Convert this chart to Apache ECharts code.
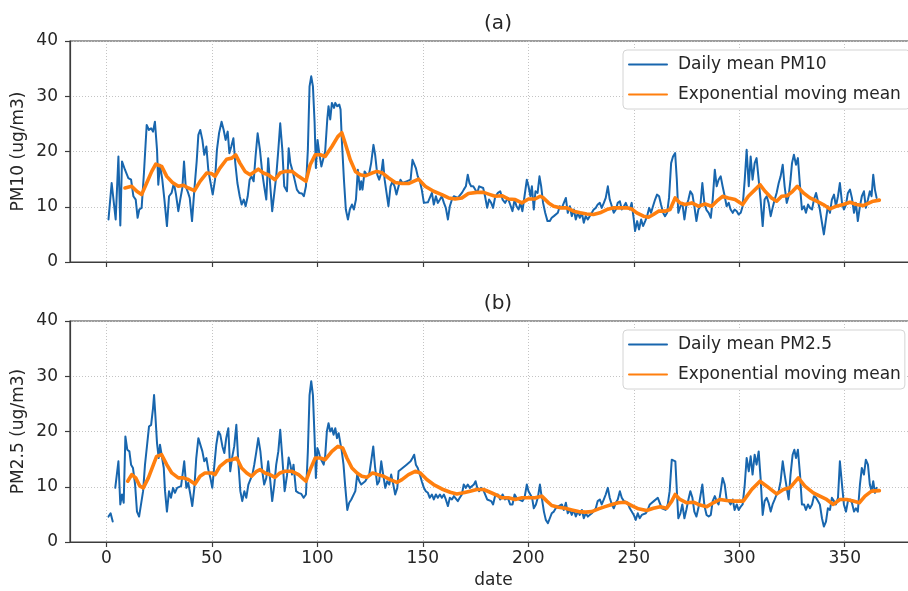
<!DOCTYPE html>
<html>
<head>
<meta charset="utf-8">
<script src="https://cdn.jsdelivr.net/npm/echarts@6/dist/echarts.min.js"></script>
<style>
  html, body { margin: 0; padding: 0; background: #fff; overflow: hidden; }
  #chart { width: 922px; height: 591px; }
</style>
</head>
<body>
<div id="chart"></div>
<script>
// x ticks and y ticks
const xTicks = [0, 50, 100, 150, 200, 250, 300, 350];
const yTicks = [0, 10, 20, 30, 40];

// (a) daily mean PM10, [day, value]
const pm10Daily = [
  [1,7.7],[2.5,14.3],[4.4,7.7],[5.7,19.1],[6.6,6.6],[7.4,18.2],[8.8,16.7],[10.4,15.2],[11.7,14.9],[12.8,11.9],
  [13.9,11.3],[14.8,8],[15.6,9.5],[16.7,9.8],[17.8,16.1],[19.1,24.8],[20.2,23.9],[21.2,24.2],[22.1,23.6],[23,25.4],
  [24,20.3],[24.6,14],[25.4,17.6],[26.5,14.9],[27.5,11.3],[28.7,6.5],[29.7,11.9],[30.9,12.5],[32,14.3],[33,12.2],
  [34.1,9.2],[35,11.3],[36,13.4],[36.8,18.2],[37.6,13.7],[38.5,12.8],[39.5,11.6],[40.6,7.4],[41.7,13.1],[42.8,18.2],
  [43.6,23],[44.5,23.9],[45.5,22.1],[46.4,19.4],[47.4,20.9],[48.3,16.7],[49.4,14.3],[50.4,12.2],[51.5,14.9],[52.4,20.3],
  [53.4,23.3],[54.6,25.4],[55.6,23.9],[56.5,22.1],[57.5,23.6],[58.3,19.7],[59.2,20.9],[60.2,22.4],[61.1,17.9],[62.1,14.3],
  [63.2,11.9],[64.1,10.4],[65.1,11.3],[66,10.1],[67,11.9],[67.9,14.9],[68.8,15.5],[69.8,14.6],[70.7,19.1],[71.7,23.3],
  [72.8,20.3],[73.9,16.1],[74.8,13.7],[75.8,11.3],[76.7,18.8],[77.7,13.7],[78.6,9.2],[79.6,12.5],[80.5,15.5],[81.5,20.3],
  [82.4,25.1],[83.4,20.3],[84.3,13.7],[85.6,12.8],[86.4,20.6],[87.2,17.9],[88.3,16.4],[89.2,16.7],[90.3,13.1],[91.4,12.5],
  [92.7,12.4],[93.6,11.9],[94.6,13.7],[95.5,20.3],[96.3,31.8],[97.1,33.6],[97.9,31.8],[98.7,25.2],[99.3,17],[100.1,22.1],
  [100.9,19.7],[101.9,17.3],[102.8,17.6],[103.7,20],[104.7,25.8],[105.3,28.2],[106.1,25.8],[106.9,28.8],[107.9,27.9],[108.5,28.8],
  [109.4,28.2],[110.4,28.5],[111,27.6],[111.6,22.1],[112.6,14.9],[113.5,9.5],[114.5,7.7],[115.4,9.5],[116.4,10.4],[117.3,9.5],
  [118.3,11.3],[119.2,16.7],[120.2,13.1],[120.8,14.6],[121.4,13.1],[122.4,16.4],[123.5,15.8],[124.6,16.1],[125.5,17.9],[126.6,21.2],
  [127.4,19.4],[128.4,15.8],[129.3,14.9],[130.3,16.1],[131.1,18.5],[131.9,14.9],[132.8,12.5],[133.7,10.1],[134.7,13.7],[135.6,14.6],
  [136.6,13.7],[137.5,12.2],[138.5,13.7],[139.4,14.9],[140.4,14.3],[141.3,14.3],[142.3,14.6],[143.2,14.3],[144.2,14.9],[145.1,18.5],
  [145.7,18.8],[146.7,17],[147.6,15.5],[148.6,14.6],[149.5,13.1],[150.5,10.7],[151.4,10.4],[152.4,10.8],[153.3,10.7],[154.3,12.5],
  [155.2,10.4],[156.2,11.9],[157.1,10.7],[158.1,11.3],[159,11.9],[160,10.7],[160.9,9.8],[161.9,7.7],[162.8,10.1],[163.8,11.3],
  [164.7,11.9],[165.6,11.6],[166.6,11.6],[167.5,11.9],[168.5,12.5],[169.4,13.1],[170.4,13.7],[171.3,15.8],[172.1,14.3],[172.9,13.7],
  [173.9,13.7],[174.8,13.4],[175.8,12.5],[176.7,13.7],[177.6,13.7],[178.6,13.4],[179.5,11.9],[180.5,9.8],[181.4,11.3],[182.4,10.7],
  [183.3,9.8],[184.3,11.8],[185.6,12.5],[186.7,12.8],[187.8,11.3],[189,10.7],[190.3,11.6],[191.4,10.4],[192.5,9.2],[193.5,11.3],
  [194.4,10.1],[195.4,9.5],[196.3,10.7],[197.2,9.2],[198.2,11.9],[199.3,14.9],[200.1,13.7],[201,11.9],[201.7,13.7],[202.6,9.5],
  [203.4,12.8],[204.4,12.5],[205.3,15.5],[206.1,13.7],[207,10.7],[208,8.9],[209.1,7.4],[210.2,7.4],[211.1,8],[212.1,8.3],
  [213,8.3],[214,8.9],[214.9,10.1],[215.9,9.8],[216.8,9.8],[217.8,11.6],[218.7,8.9],[219.7,10.1],[220.6,8.3],[221.6,9.5],
  [222.5,7.7],[223.5,8.9],[224.4,8],[225.4,8.9],[226.3,7.1],[227.2,8.3],[228.2,7.7],[229.1,8.3],[230.1,8.9],[231,9.5],
  [232,9.8],[232.9,10.4],[233.9,10.7],[234.8,9.8],[235.8,10.7],[236.7,11.6],[237.7,13.7],[238.6,11.3],[239.6,10.1],[240.5,8.9],
  [241.5,9.5],[242.4,10.7],[243.4,11],[244.3,9.5],[245.3,10.1],[246.2,10.7],[247.1,9.8],[248.1,9.5],[249,10.7],[250,7.7],
  [250.6,5.6],[251.6,7.4],[252.5,5.9],[253.5,7.7],[254.4,6.5],[255.4,7.4],[256.3,8.3],[257.3,9.8],[258.2,8.9],[259.1,10.1],
  [260.1,11.3],[261,12.2],[262,11.9],[262.9,10.4],[263.9,8.9],[264.8,8.3],[265.8,8.9],[266.7,11.6],[267.7,17.9],[268.6,19.1],
  [269.6,19.7],[270.4,14.9],[271.1,8.9],[272.1,10.1],[273,10.7],[274,7.7],[274.9,10.1],[275.9,11.3],[276.8,12.8],[277.8,12.2],
  [278.7,10.1],[279.7,7.4],[280.6,9.5],[281.5,10],[282.5,14.3],[283.5,10.5],[284.5,9.4],[285.5,8.9],[286.5,8],[287.4,11.3],
  [288.4,16.7],[289.3,13.7],[290.2,14.9],[291.2,15.5],[292.1,13.7],[293.1,11.9],[294,10.1],[295,10.7],[295.9,9.5],[296.9,8.9],
  [297.8,9.5],[298.8,9.2],[299.7,8.6],[300.7,8.9],[301.6,10.1],[302.6,14.9],[303.5,20.3],[304.5,13.7],[305.4,19.1],[306.3,14.9],
  [307.3,17.9],[308.2,18.8],[309.2,14.9],[310.1,11.3],[311.1,6.5],[312,11.3],[313,11.9],[313.9,10.7],[314.9,8.3],[315.8,9.8],
  [316.8,11.3],[317.7,12.5],[318.7,14.3],[319.6,15.5],[320.6,17.6],[321.5,13.7],[322.5,10.7],[323.4,11.9],[324.3,14.9],[325,17.9],
  [325.9,19.4],[326.9,17.6],[327.8,18.8],[328.8,13.7],[329.7,9.5],[330.7,10.1],[331.6,8.9],[332.6,10.4],[333.5,9.8],[334.5,9.5],
  [335.4,11.3],[336.4,12.5],[337.3,12.8],[338.2,9.5],[339.2,7.1],[340.1,5],[341.1,7.7],[342,10.1],[343,8.9],[343.9,11.3],
  [344.9,12.2],[345.8,10.1],[346.8,11.9],[347.7,14.3],[348.7,10.7],[349.6,9.5],[350.6,10.4],[351.5,12.5],[352.5,13.1],[353.4,11.6],
  [354.4,8.9],[355.3,10.7],[356.2,7.4],[357.2,10.1],[358.1,11.9],[359.1,12.8],[360,9.8],[361,11.3],[361.9,12.8],[362.7,11.9],
  [363.5,15.8],[364.3,13.1],[365.1,11.6]
];

// (a) exponential moving mean of PM10
const pm10Ema = [
  [8.8,13.4],[12,13.7],[14.4,12.8],[16.7,12.2],[19.1,14.3],[21.5,16.4],[23.4,17.7],[26.2,17.3],[28.6,15.5],[31.3,14.4],
  [34.1,13.7],[36.5,13.9],[38.8,13.4],[41.7,12.9],[44.4,14.6],[47.5,16.1],[49.9,16],[51.5,15.5],[53.8,17],[57,18.6],
  [59.4,18.8],[61.3,19.4],[63.3,17.9],[65.7,16.4],[68.1,15.8],[70.4,16.4],[72,16.8],[74.4,16.1],[76.7,15.8],[79.9,14.9],
  [82.3,16.1],[84.6,16.4],[88,16.4],[91.1,15.5],[94.6,14.6],[96.6,17.6],[99,19.4],[101.4,19.4],[103.7,19.1],[106.9,20.9],
  [109.7,22.7],[111.6,23.4],[113.2,21.5],[115.6,18.5],[118,16.4],[120.3,15.8],[122.7,15.6],[125.9,16.1],[128.2,16.4],[130.9,16.1],
  [133.8,15.2],[136.9,14.4],[140.1,14.2],[143.2,14.2],[145.6,14.6],[148,15],[151.1,13.7],[155.1,12.8],[159,12.2],[162.2,11.6],
  [165.3,11.4],[168.5,11.6],[171.6,12.4],[175.6,12.6],[178.8,12.6],[181.9,12.2],[184.3,11.9],[187.5,12],[190.6,11.4],[193.8,11.3],
  [196.9,10.7],[200.1,11.4],[203.2,11.4],[205.6,11.9],[207.2,11.6],[209.6,10.7],[212,10.1],[215.1,9.8],[218.3,9.8],[221.4,9.2],
  [224.6,8.9],[227.7,8.7],[230.9,8.6],[234,8.9],[237.2,9.5],[240.4,9.8],[243.5,9.8],[246.7,9.8],[249,9.6],[251.4,8.9],
  [254.6,8.3],[257,8.1],[259.3,8.6],[261.7,9.2],[264.8,9.2],[267.2,9.5],[269.6,11.6],[271.9,10.7],[274.3,10.4],[277.5,10.7],
  [280.6,10.1],[283.8,10.5],[286.9,10.1],[289.3,11],[292.1,11.9],[294.8,11.6],[298,11.3],[301.6,10.4],[304.3,11.9],[307.5,13.1],
  [309.8,14],[312.2,12.8],[315.3,11.6],[317.7,11],[320.1,11.9],[322.8,12],[325.3,12.8],[327.5,13.7],[330.4,12.5],[333.5,11.6],
  [336.7,11],[339.8,10.4],[343,9.6],[346.1,10.1],[349.3,10.4],[352.5,10.8],[355.6,10.4],[358.8,10.2],[361.1,10.6],[363.5,11],
  [366.4,11.2]
];

// (b) daily mean PM2.5 ('-' = missing day)
const pm25Daily = [
  [1,4.6],[2,5.2],[3,3.7],[3.6,'-'],[4.2,9.8],[5.7,14.6],[6.6,6.8],[7.4,8.6],[8.2,7.1],[9,19.1],
  [9.9,16.7],[10.9,16.4],[11.7,14],[12.6,13.4],[13.6,10.4],[14.5,5.5],[15.5,4.6],[16.4,4.9],[17.4,9.2],[18.3,14],
  [19.3,17.6],[20.2,20.9],[21.2,21.2],[22.1,24.2],[22.6,26.6],[23.2,23],[24,17.9],[24.8,15.2],[25.4,17.6],[26.2,17.6],
  [27.2,13.4],[27.8,9.2],[28.7,5.5],[29.7,9.2],[30.6,8],[31.6,9.8],[32.5,8.9],[33.5,9.8],[34.4,9.5],[35.4,10.1],
  [36.3,12.8],[36.9,14.6],[37.9,9.8],[38.8,10.7],[39.8,8.6],[40.7,6.5],[41.7,9.8],[42.6,15.2],[43.6,18.8],[44.5,19.1],
  [45.5,16.4],[46.4,14.6],[47.4,15.2],[48.3,13.1],[49.3,11.6],[50.2,9.8],[51.2,14],[52.1,17.6],[53.1,20],[54,19.4],
  [55,17.3],[55.9,16.1],[56.8,18.8],[57.8,20.6],[58.7,12.8],[59.7,15.5],[60.6,17.3],[61.6,21.2],[62.5,14.6],[63.5,9.2],
  [64.4,7.4],[65.4,9.2],[66.3,8],[67.3,10.4],[68.2,10.1],[69.2,12.2],[70.1,14],[71.1,16.4],[72,18.8],[73,16.4],
  [73.9,12.8],[74.8,10.4],[75.8,11.6],[76.7,14.6],[77.7,11],[78.6,7.4],[79.6,10.4],[80.5,14],[81.5,16.4],[82.4,20.3],
  [83.4,15.2],[84.5,9.2],[85.6,12],[86.4,15.3],[87.2,14],[88,12.2],[88.7,14],[89.9,9.2],[91.1,8.9],[92.4,8.7],
  [93.5,8],[94.6,8.6],[95.5,16.4],[96.3,26.6],[97.1,29.1],[97.9,26.6],[98.7,18.8],[99.3,11.6],[100,17],[100.6,16.4],
  [101.4,15.2],[102.2,14.6],[103,14],[103.7,15.5],[104.5,20],[105.3,21.5],[106.1,20],[106.9,20.6],[107.7,19.4],[108.5,20.6],
  [109.3,18.8],[110.1,19.7],[110.9,17.9],[111.6,16.4],[112.4,14],[113.2,10.1],[114.2,5.8],[115.1,7.1],[116.1,7.7],[117,7.7],
  [118,9.2],[118.9,12.2],[119.9,11],[120.8,10.4],[121.7,10.1],[122.7,11],[123.6,11.6],[124.6,12.2],[125.5,14.6],[126.5,17.3],
  [127.4,13.4],[128.4,10.4],[129.3,11],[130.3,14.6],[131.2,12.2],[132.2,9.8],[133.1,11],[134.1,10.4],[135,12.2],[136,10.4],
  [136.9,8.6],[137.9,9.8],[138.5,12.8],[139.4,13.1],[140.4,13.4],[141.3,13.7],[142.3,14],[143.2,14.3],[144.2,14.6],[145.1,15.2],
  [145.9,15.8],[146.7,14],[147.6,13.4],[148.6,12.2],[149.5,11],[150.5,9.8],[151.4,9.2],[152.4,8.9],[153.3,8],[154.3,8.6],
  [155.2,7.7],[156.2,8.6],[157.1,8],[158.1,8.6],[159,8],[160,8.6],[160.9,7.7],[161.9,6.5],[162.8,8],[163.8,7.7],
  [164.7,8.3],[165.6,8],[166.6,7.4],[167.5,8],[168.5,8.6],[169.4,10.4],[170.4,9.8],[171.3,10.4],[172.3,9.8],[173.2,10.1],
  [174.2,10.4],[175,11],[175.8,9.8],[176.7,9.2],[177.6,9.8],[178.6,9.5],[179.5,9.2],[180.5,7.7],[181.4,8],[182.4,7.4],
  [183.3,6.8],[184.3,8.4],[185.6,8.6],[186.7,7.7],[187.8,8.6],[189,7.7],[190.3,8],[191.4,6.8],[192.5,6.8],[193.5,8.6],
  [194.4,8],[195.4,7.7],[196.3,8],[197.2,7.4],[198.2,8],[199.3,10.4],[200.1,9.2],[201,9.5],[201.8,8],[202.6,6.1],
  [203.6,6.8],[204.5,8],[205.5,10.4],[206.4,8],[207.4,5.5],[208.3,4],[209.3,3.4],[210.2,4.3],[211.1,5.2],[212.1,5.5],
  [213,6.1],[214,6.4],[214.9,6.1],[215.9,6.8],[216.8,5.8],[217.8,7.1],[218.7,5.2],[219.7,5.8],[220.6,4.9],[221.6,5.8],
  [222.5,4.6],[223.5,5.5],[224.4,4.9],[225.4,5.8],[226.3,4.3],[227.2,5.2],[228.2,4.6],[229.1,4.9],[230.1,5.2],[231,5.5],
  [232,6.1],[232.9,7.4],[233.9,7.7],[234.8,6.8],[235.8,7.7],[236.7,8.6],[237.7,9.8],[238.6,8],[239.6,6.8],[240.5,6.1],
  [241.5,7.1],[242.4,7.7],[243.4,9.2],[244.3,8],[245.3,7.4],[246.2,7.7],[247.1,7.1],[248.1,6.1],[249,6.4],[250,4.9],
  [250.9,4],[251.9,5.2],[252.8,4.3],[253.8,4.9],[254.7,4.6],[255.7,5.2],[256.6,5.8],[257.6,6.8],[258.5,7.1],[259.5,7.4],
  [260.4,7.1],[261.4,8],[262.3,7.1],[263.3,6.1],[264.2,6.4],[265.1,5.8],[266.1,6.8],[267,9.2],[268,14.9],[268.9,15.2],
  [269.7,14.6],[270.5,8.6],[271.1,4.3],[272.1,5.2],[273,6.8],[274,4.3],[274.9,5.8],[275.9,7.7],[276.8,9.2],[277.8,8],
  [278.7,5.5],[279.7,4.6],[280.6,6.1],[281.5,6],[282.5,10.4],[283.5,6.5],[284.5,4.9],[285.5,4.6],[286.5,4.9],[287.4,7.4],
  [288.4,8.3],[289.3,7.4],[290.2,6.8],[291.2,9.2],[292.1,11.6],[293.1,10.4],[294,7.7],[295,7.4],[295.9,6.8],[296.9,7.7],
  [297.8,5.8],[298.8,6.8],[299.7,5.8],[300.7,6.4],[301.6,6.8],[302.6,10.4],[303.5,15.2],[304.5,12.8],[305.4,15.5],[306.3,12.2],
  [307.3,15.8],[308.2,14],[309.2,16.4],[310.1,11.6],[311.1,4.9],[312,7.4],[313,8],[313.9,7.1],[314.9,5.5],[315.8,6.8],
  [316.8,7.7],[317.7,8.6],[318.7,9.2],[319.6,11],[320.6,14.6],[321.5,12.2],[322.5,9.8],[323.4,7.7],[324.3,12.2],[325.3,15.8],
  [326.1,16.7],[326.9,15.2],[327.8,16.7],[328.8,12.2],[329.7,6.8],[330.7,6.8],[331.6,5.8],[332.6,6.8],[333.5,6.1],[334.5,6.8],
  [335.4,8.3],[336.4,8],[337.3,7.4],[338.2,6.8],[339.2,4.3],[340.1,2.8],[341.1,3.7],[342,6.1],[343,5.8],[343.9,8],
  [344.9,7.4],[345.8,6.8],[346.8,8],[347.7,14.6],[348.7,10.4],[349.6,6.8],[350.6,5.5],[351.5,7.4],[352.5,7.7],[353.4,7.1],
  [354.4,5.5],[355.3,6.1],[356.2,5.5],[357.2,10.4],[358.1,13.4],[359.1,12.2],[360,14.9],[361,14],[361.9,10.4],[362.7,9.2],
  [363.5,11],[364.3,8.9],[365.1,9.8]
];

// (b) exponential moving mean of PM2.5
const pm25Ema = [
  [10.1,11],[12,12.2],[13.9,11.6],[15.9,10.1],[17.5,9.8],[19.9,11.6],[22.3,14],[23.8,15.5],[26.2,15.8],[28.6,14],
  [31,12.5],[34.1,11.6],[36.5,11.6],[38.8,11.3],[42,10.5],[44.4,11.9],[46.7,12.5],[49.9,12.5],[51.5,12.2],[53.8,13.7],
  [57,14.7],[59.4,14.9],[61.8,15.2],[64.1,13.4],[66.5,12.5],[68.8,11.9],[71.2,12.8],[72.8,13.1],[75.2,12.5],[77.5,12.2],
  [79.9,11.7],[82.3,12.5],[84.6,12.8],[88,12.8],[91.1,12.2],[94.6,11],[96.6,13.1],[99,15.2],[101.4,15.2],[103.7,14.9],
  [106.9,16.4],[109.7,17.3],[112,17],[114,15.2],[116.4,13.4],[118.8,12.5],[121.1,11.9],[123.5,11.7],[126.2,12.5],[128.7,12.2],
  [131.4,11.9],[134.5,11.3],[137.7,10.8],[140.1,11.3],[143.2,12.2],[146.4,12.8],[148.8,12.5],[151.9,11.3],[155.1,10.4],[159,9.6],
  [163,9],[166.1,8.7],[169.3,8.9],[172.4,9.2],[175.6,9.5],[178.8,9.5],[181.9,9],[184.3,8.6],[187.5,8],[190.6,8],
  [193.8,7.7],[196.9,8],[200.1,8],[203.2,8],[206.4,8.3],[208.8,7.4],[211.1,6.6],[214.3,6.3],[217.5,6.1],[220.6,5.8],
  [223.8,5.5],[227,5.4],[230.1,5.5],[233.3,6],[236.4,6.4],[239.6,6.8],[242.7,7.1],[245.9,7.2],[249,6.6],[252.2,6],
  [256.1,5.7],[259.3,6.1],[262.5,6.4],[265.6,6.1],[268,7.4],[269.6,8.6],[271.9,7.7],[275.1,7.1],[278.3,7.2],[280.6,6.8],
  [284.6,6.4],[287.7,7.1],[290.9,7.7],[294,7.5],[297.2,7.4],[301.9,7.4],[305.9,9.5],[309.8,11],[313,10.1],[317.7,8.7],
  [320.9,9.5],[324,9.8],[328,11.6],[331.1,10.1],[335.1,8.9],[338.2,8.3],[341.4,7.7],[344.6,6.8],[347.7,7.7],[350.9,7.7],
  [354,7.4],[356.9,7.1],[359.6,8.3],[362.7,9.2],[366.4,9.3]
];

const FONT = 'DejaVu Sans';
const INK = '#262626';
const SPINE = '#3c3c3c';
const GRIDLINE = '#c4c4c4';
const BLUE = '#1866ae';
const ORANGE = '#ff7f0e';

const chart = echarts.init(document.getElementById('chart'), null, { renderer: 'canvas' });

function xAxisFor(gridIndex, showLabels) {
  return {
    type: 'value',
    gridIndex: gridIndex,
    min: -17.25,
    max: 384.25,
    name: showLabels ? 'date' : '',
    nameLocation: 'middle',
    nameGap: 30,
    nameMoveOverlap: false,
    nameTextStyle: { fontFamily: FONT, fontSize: 17, color: INK },
    axisLine: { show: true, onZero: false, lineStyle: { color: SPINE, width: 1.2 } },
    axisTick: { show: true, length: 5, customValues: xTicks, lineStyle: { color: SPINE, width: 1.2 } },
    axisLabel: { show: showLabels, customValues: xTicks, margin: 8, fontFamily: FONT, fontSize: 17, color: INK },
    splitLine: { show: true, lineStyle: { color: GRIDLINE, type: [1, 2], width: 1 } }
  };
}

function yAxisFor(gridIndex, title) {
  return {
    type: 'value',
    gridIndex: gridIndex,
    min: yTicks[0],
    max: yTicks[yTicks.length - 1],
    interval: 10,
    name: title,
    nameLocation: 'middle',
    nameGap: 43,
    nameMoveOverlap: false,
    nameTextStyle: { fontFamily: FONT, fontSize: 17, color: INK },
    axisLine: { show: true, onZero: false, lineStyle: { color: SPINE, width: 1.2 } },
    axisTick: { show: true, length: 5, lineStyle: { color: SPINE, width: 1.2 } },
    axisLabel: { margin: 12, fontFamily: FONT, fontSize: 17, color: INK },
    splitLine: { show: true, lineStyle: { color: GRIDLINE, type: [1, 2], width: 1 } }
  };
}

function legendFor(top, names) {
  return {
    data: names,
    orient: 'vertical',
    left: 623,
    top: top,
    itemWidth: 38,
    itemHeight: 14,
    itemGap: 13,
    itemStyle: { opacity: 0 },
    padding: [6, 4, 6, 5],
    backgroundColor: '#fff',
    borderColor: '#d4d4d4',
    borderWidth: 1,
    borderRadius: 4,
    selectedMode: false,
    textStyle: { fontFamily: FONT, fontSize: 17, color: INK, padding: [0, 0, 0, 6] }
  };
}

function lineSeries(name, data, xi, color, width, z) {
  return {
    name: name,
    type: 'line',
    xAxisIndex: xi,
    yAxisIndex: xi,
    data: data,
    symbol: 'none',
    showSymbol: false,
    connectNulls: false,
    z: z,
    itemStyle: { color: color },
    lineStyle: { color: color, width: width, join: 'round', cap: 'round' }
  };
}

chart.setOption({
  backgroundColor: '#fff',
  animation: false,
  title: [
    { text: '(a)', left: 493, top: 9, textAlign: 'center',
      textStyle: { fontFamily: FONT, fontSize: 20, fontWeight: 'normal', color: INK } },
    { text: '(b)', left: 493, top: 289, textAlign: 'center',
      textStyle: { fontFamily: FONT, fontSize: 20, fontWeight: 'normal', color: INK } }
  ],
  grid: [
    { left: 70, top: 41, width: 847, height: 221, show: true, borderColor: SPINE, borderWidth: 1.2, backgroundColor: 'transparent' },
    { left: 70, top: 321, width: 847, height: 221, show: true, borderColor: SPINE, borderWidth: 1.2, backgroundColor: 'transparent' }
  ],
  xAxis: [xAxisFor(0, false), xAxisFor(1, true)],
  yAxis: [yAxisFor(0, 'PM10 (ug/m3)'), yAxisFor(1, 'PM2.5 (ug/m3)')],
  legend: [
    legendFor(50, ['Daily mean PM10', 'Exponential moving mean ']),
    legendFor(330, ['Daily mean PM2.5', 'Exponential moving mean'])
  ],
  series: [
    lineSeries('Daily mean PM10', pm10Daily, 0, BLUE, 2, 2),
    lineSeries('Exponential moving mean ', pm10Ema, 0, ORANGE, 3.6, 3),
    lineSeries('Daily mean PM2.5', pm25Daily, 1, BLUE, 2, 2),
    lineSeries('Exponential moving mean', pm25Ema, 1, ORANGE, 3.6, 3)
  ]
});
</script>
</body>
</html>
